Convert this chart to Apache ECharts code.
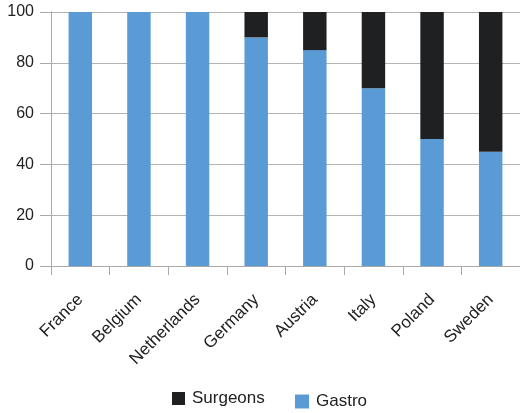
<!DOCTYPE html>
<html>
<head>
<meta charset="utf-8">
<script src="https://cdn.jsdelivr.net/npm/echarts@6/dist/echarts.min.js"></script>
<style>
  html, body { margin: 0; padding: 0; background: #fff; }
  #chart { width: 520px; height: 413px; }
</style>
</head>
<body>
<div id="chart"></div>
<script>
// Share of procedures by specialty, per country (percent)
const countries = ['France', 'Belgium', 'Netherlands', 'Germany', 'Austria', 'Italy', 'Poland', 'Sweden'];
const gastro = [100, 100, 100, 90, 85, 70, 50, 45];
const surgeons = [0, 0, 0, 10, 15, 30, 50, 55];
const yTicks = { min: 0, max: 100, interval: 20 };

const textColor = '#222';
const axisGray = '#a9a9a9';
const font = 'Liberation Sans, Arial, Helvetica, sans-serif';

const chart = echarts.init(document.getElementById('chart'), null, { renderer: 'canvas' });
chart.setOption({
  animation: false,
  backgroundColor: '#fff',
  textStyle: { fontFamily: font },
  grid: { left: 51, top: 12, bottom: 147, right: -6, containLabel: false },
  legend: [
    {
      data: ['Surgeons'],
      left: 172, top: 390,
      itemWidth: 13, itemHeight: 13, itemGap: 6,
      icon: 'rect',
      textStyle: { color: textColor, fontSize: 17, fontFamily: font, padding: [0, 0, 0, 2] },
      padding: 0
    },
    {
      data: ['Gastro'],
      left: 295, top: 393,
      itemWidth: 14, itemHeight: 14, itemGap: 6,
      icon: 'rect',
      textStyle: { color: textColor, fontSize: 17, fontFamily: font, padding: [0, 0, 0, 2] },
      padding: 0
    }
  ],
  xAxis: {
    type: 'category',
    data: countries,
    boundaryGap: true,
    axisLine: { lineStyle: { color: axisGray, width: 1 } },
    axisTick: { show: true, length: 9, lineStyle: { color: axisGray } },
    axisLabel: {
      rotate: 45, margin: 31, color: textColor,
      fontSize: 17, fontFamily: font, interval: 0
    },
    splitLine: { show: false }
  },
  yAxis: {
    type: 'value',
    min: yTicks.min, max: yTicks.max, interval: yTicks.interval,
    axisLine: { show: true, lineStyle: { color: axisGray, width: 1 } },
    axisTick: { show: true, length: 11, lineStyle: { color: axisGray } },
    axisLabel: { margin: 17, color: textColor, fontSize: 16, fontFamily: font },
    splitLine: { show: true, lineStyle: { color: '#b3b3b3', width: 1 } }
  },
  series: [
    {
      name: 'Gastro', type: 'bar', stack: 'total',
      data: gastro, barWidth: '40%',
      itemStyle: { color: '#5b9bd5' }
    },
    {
      name: 'Surgeons', type: 'bar', stack: 'total',
      data: surgeons, barWidth: '40%',
      itemStyle: { color: '#1f2022' }
    }
  ]
});
</script>
</body>
</html>
